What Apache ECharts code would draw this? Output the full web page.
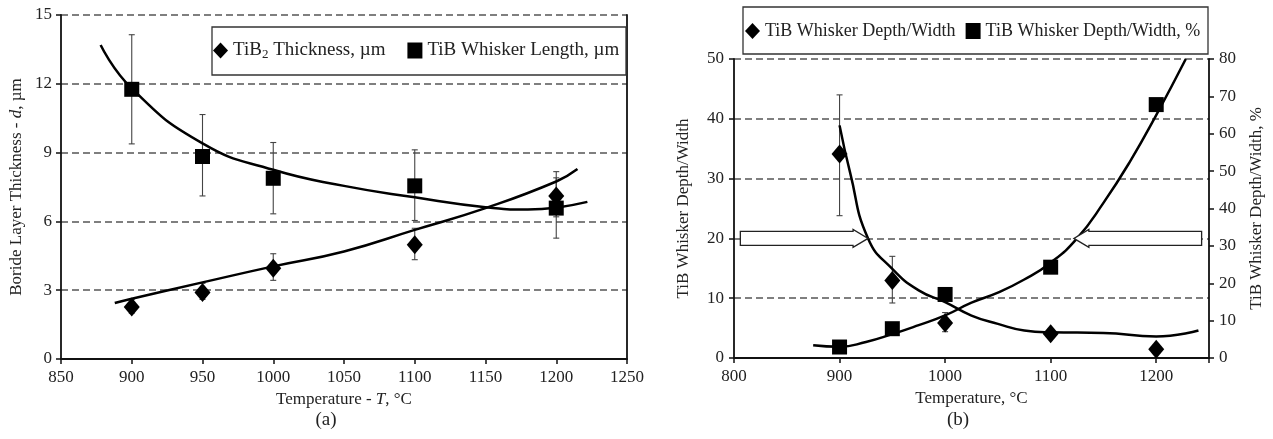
<!DOCTYPE html>
<html><head><meta charset="utf-8">
<script src="https://cdn.jsdelivr.net/npm/echarts@6/dist/echarts.min.js"></script>
<style>html,body{margin:0;padding:0;background:#fff}#c{width:1273px;height:439px}</style>
</head><body><div id="c"></div>
<script>
// ---------- Chart (a) ----------
const tempA = [900, 950, 1000, 1100, 1200];
const tib2Thickness = [2.27, 2.9, 3.96, 4.98, 7.11];
const tib2Low = [2.0, 2.6, 3.43, 4.33, 6.2];
const tib2High = [2.6, 3.3, 4.59, 5.7, 8.17];
const whiskerLength = [11.76, 8.83, 7.88, 7.55, 6.58];
const whiskerLow = [9.38, 7.11, 6.33, 6.04, 5.27];
const whiskerHigh = [14.14, 10.66, 9.44, 9.12, 7.9];
const tib2TrendT = [888, 900, 950, 1000, 1050, 1100, 1150, 1200, 1215];
const tib2TrendV = [2.44, 2.63, 3.34, 4.04, 4.69, 5.63, 6.58, 7.74, 8.28];
const whiskerTrendT = [878, 900, 950, 1000, 1050, 1100, 1150, 1180, 1200, 1222];
const whiskerTrendV = [13.69, 11.8, 9.4, 8.25, 7.55, 7.05, 6.62, 6.52, 6.6, 6.85];
const xTicksA = [850, 900, 950, 1000, 1050, 1100, 1150, 1200, 1250];
const yTicksA = [0, 3, 6, 9, 12, 15];

// ---------- Chart (b) ----------
const tempB = [900, 950, 1000, 1100, 1200];
const depthWidth = [34.1, 12.97, 5.85, 4.06, 1.45];
const depthWidthLow = [23.8, 9.2, 4.4, 3.6, 1.0];
const depthWidthHigh = [44.0, 17.0, 7.6, 4.6, 1.9];
const depthWidthPct = [2.94, 7.84, 17.0, 24.3, 67.8];
const dwTrendT = [900, 910, 927, 950, 975, 1000, 1025, 1050, 1075, 1100, 1150, 1200, 1240];
const dwTrendV = [38.9, 31.0, 20.0, 14.9, 11.3, 9.35, 7.1, 5.7, 4.6, 4.3, 4.2, 3.6, 4.6];
const pctTrendT = [875, 900, 925, 950, 975, 1000, 1025, 1050, 1075, 1100, 1125, 1150, 1175, 1200, 1228];
const pctTrendV = [3.4, 3.0, 4.3, 6.4, 8.8, 11.4, 14.8, 17.5, 21.0, 25.5, 32.0, 41.5, 52.5, 65.0, 80.0];
const arrowTails = [806, 1243];
const arrowTips = [927, 1122];
const arrowLevel = [20, 20];

const FONT = 'Liberation Serif';
const TXT = '#222';
const zip = (a, b) => a.map((v, i) => [v, b[i]]);
const zip3 = (a, b, c) => a.map((v, i) => [v, b[i], c[i]]);

function errRender(params, api) {
  const x = api.value(0);
  const p1 = api.coord([x, api.value(1)]);
  const p2 = api.coord([x, api.value(2)]);
  const w = 3;
  const st = { stroke: '#444', lineWidth: 1.1 };
  return { type: 'group', children: [
    { type: 'line', shape: { x1: p1[0], y1: p1[1], x2: p2[0], y2: p2[1] }, style: st },
    { type: 'line', shape: { x1: p1[0] - w, y1: p1[1], x2: p1[0] + w, y2: p1[1] }, style: st },
    { type: 'line', shape: { x1: p2[0] - w, y1: p2[1], x2: p2[0] + w, y2: p2[1] }, style: st }
  ]};
}
function arrowRender(params, api) {
  const tail = api.coord([api.value(0), api.value(2)]);
  const tip = api.coord([api.value(1), api.value(2)]);
  const dir = tip[0] > tail[0] ? 1 : -1;
  const hs = 7, hh = 9, hl = 15;
  const neck = tip[0] - dir * hl;
  const y = tip[1];
  return { type: 'polygon', shape: { points: [
    [tail[0], y - hs], [neck, y - hs], [neck, y - hh], [tip[0], y], [neck, y + hh], [neck, y + hs], [tail[0], y + hs]
  ]}, style: { fill: '#fff', stroke: '#222', lineWidth: 1.3 } };
}

const fmt = v => String(v);
const axisLineStyle = { lineStyle: { color: '#111', width: 1.8 } };
const tickStyle = { show: true, inside: false, length: 5, lineStyle: { color: '#111', width: 1.5 } };
const labelStyle = { color: TXT, fontSize: 17, fontFamily: FONT, formatter: fmt };
const splitDash = { show: true, lineStyle: { color: '#555', width: 1.5, type: [7, 4] } };
const nameStyle = { color: TXT, fontSize: 17, fontFamily: FONT,
  rich: { i: { fontStyle: 'italic', fontSize: 17, fontFamily: FONT, color: TXT } } };
const mark = { color: '#000', opacity: 1 };

const option = {
  animation: false,
  backgroundColor: '#fff',
  textStyle: { fontFamily: FONT },
  grid: [
    { left: 61, right: 646, top: 15, bottom: 80 },
    { left: 734, right: 64, top: 59, bottom: 81 }
  ],
  xAxis: [
    { type: 'value', gridIndex: 0, min: xTicksA[0], max: xTicksA[xTicksA.length - 1], interval: 50,
      axisLine: axisLineStyle, axisTick: tickStyle, axisLabel: Object.assign({}, labelStyle, { margin: 10 }),
      splitLine: { show: false },
      name: 'Temperature - {i|T}, °C', nameLocation: 'middle', nameGap: 30, nameTextStyle: nameStyle },
    { type: 'value', gridIndex: 1, min: 800, max: 1250, interval: 100,
      axisLine: axisLineStyle, axisTick: tickStyle,
      axisLabel: Object.assign({}, labelStyle, { margin: 10, formatter: v => (v > 1200 ? '' : String(v)) }),
      splitLine: { show: false },
      name: 'Temperature, °C', nameLocation: 'middle', nameGap: 31, nameTextStyle: nameStyle }
  ],
  yAxis: [
    { type: 'value', gridIndex: 0, min: yTicksA[0], max: yTicksA[yTicksA.length - 1], interval: 3,
      axisLine: Object.assign({ show: true }, axisLineStyle), axisTick: tickStyle,
      axisLabel: Object.assign({}, labelStyle, { margin: 9 }), splitLine: splitDash,
      name: 'Boride Layer Thickness - {i|d}, µm', nameLocation: 'middle', nameGap: 36, nameTextStyle: nameStyle },
    { type: 'value', gridIndex: 0, position: 'right', min: 0, max: 15, interval: 3,
      axisLine: Object.assign({ show: true }, axisLineStyle), axisTick: { show: false },
      axisLabel: { show: false }, splitLine: { show: false } },
    { type: 'value', gridIndex: 1, min: 0, max: 50, interval: 10,
      axisLine: Object.assign({ show: true }, axisLineStyle), axisTick: tickStyle,
      axisLabel: Object.assign({}, labelStyle, { margin: 10 }), splitLine: splitDash,
      name: 'TiB Whisker Depth/Width', nameLocation: 'middle', nameGap: 42, nameTextStyle: nameStyle },
    { type: 'value', gridIndex: 1, position: 'right', min: 0, max: 80, interval: 10,
      axisLine: Object.assign({ show: true }, axisLineStyle), axisTick: tickStyle,
      axisLabel: Object.assign({}, labelStyle, { margin: 10 }), splitLine: { show: false },
      name: 'TiB Whisker Depth/Width, %', nameLocation: 'middle', nameGap: 39, nameTextStyle: nameStyle }
  ],
  legend: [
    { left: 213, top: 41, itemWidth: 15, itemHeight: 16, itemGap: 22, padding: 0,
      data: ['TiB2 Thickness, µm', 'TiB Whisker Length, µm'],
      formatter: n => (n === 'TiB2 Thickness, µm' ? 'TiB{sub|2} Thickness, µm' : n),
      textStyle: { color: TXT, fontSize: 19, fontFamily: FONT,
        rich: { sub: { fontSize: 13, fontFamily: FONT, color: TXT, padding: [9, 0, 0, 0] } } } },
    { left: 745, top: 22, itemWidth: 15, itemHeight: 16, itemGap: 10, padding: 0,
      data: ['TiB Whisker Depth/Width', 'TiB Whisker Depth/Width, %'],
      textStyle: { color: TXT, fontSize: 18, fontFamily: FONT } }
  ],
  graphic: [
    { type: 'rect', shape: { x: 212, y: 27, width: 414, height: 48 }, style: { fill: 'none', stroke: '#333', lineWidth: 1.3 }, z: 100 },
    { type: 'rect', shape: { x: 743, y: 7, width: 465, height: 47 }, style: { fill: 'none', stroke: '#333', lineWidth: 1.3 }, z: 100 },
    { type: 'text', x: 326, y: 411, style: { text: '(a)', fill: TXT, font: '19px "Liberation Serif"', textAlign: 'center' } },
    { type: 'text', x: 958, y: 411, style: { text: '(b)', fill: TXT, font: '19px "Liberation Serif"', textAlign: 'center' } }
  ],
  series: [
    // chart (a)
    { type: 'custom', name: 'errA1', xAxisIndex: 0, yAxisIndex: 0, renderItem: errRender, data: zip3(tempA, whiskerLow, whiskerHigh), z: 2 },
    { type: 'custom', name: 'errA2', xAxisIndex: 0, yAxisIndex: 0, renderItem: errRender, data: zip3(tempA, tib2Low, tib2High), z: 2 },
    { type: 'line', name: 'trendWhisker', xAxisIndex: 0, yAxisIndex: 0, data: zip(whiskerTrendT, whiskerTrendV), smooth: 0.5, showSymbol: false, lineStyle: { color: '#000', width: 2.5 }, z: 3 },
    { type: 'line', name: 'trendTib2', xAxisIndex: 0, yAxisIndex: 0, data: zip(tib2TrendT, tib2TrendV), smooth: 0.5, showSymbol: false, lineStyle: { color: '#000', width: 2.5 }, z: 3 },
    { type: 'scatter', name: 'TiB2 Thickness, µm', xAxisIndex: 0, yAxisIndex: 0, data: zip(tempA, tib2Thickness), symbol: 'diamond', symbolSize: [16, 19], itemStyle: mark, z: 4 },
    { type: 'scatter', name: 'TiB Whisker Length, µm', xAxisIndex: 0, yAxisIndex: 0, data: zip(tempA, whiskerLength), symbol: 'rect', symbolSize: 15, itemStyle: mark, z: 4 },
    // chart (b)
    { type: 'custom', name: 'errB', xAxisIndex: 1, yAxisIndex: 2, renderItem: errRender, data: zip3(tempB, depthWidthLow, depthWidthHigh), z: 2 },
    { type: 'custom', name: 'arrows', xAxisIndex: 1, yAxisIndex: 2, renderItem: arrowRender, data: zip3(arrowTails, arrowTips, arrowLevel), z: 5 },
    { type: 'line', name: 'trendDW', xAxisIndex: 1, yAxisIndex: 2, data: zip(dwTrendT, dwTrendV), smooth: 0.5, showSymbol: false, lineStyle: { color: '#000', width: 2.5 }, z: 3 },
    { type: 'line', name: 'trendPct', xAxisIndex: 1, yAxisIndex: 3, data: zip(pctTrendT, pctTrendV), smooth: 0.5, showSymbol: false, lineStyle: { color: '#000', width: 2.5 }, z: 3 },
    { type: 'scatter', name: 'TiB Whisker Depth/Width', xAxisIndex: 1, yAxisIndex: 2, data: zip(tempB, depthWidth), symbol: 'diamond', symbolSize: [16, 19], itemStyle: mark, z: 4 },
    { type: 'scatter', name: 'TiB Whisker Depth/Width, %', xAxisIndex: 1, yAxisIndex: 3, data: zip(tempB, depthWidthPct), symbol: 'rect', symbolSize: 15, itemStyle: mark, z: 4 }
  ]
};
const chart = echarts.init(document.getElementById('c'), null, { renderer: 'canvas' });
chart.setOption(option);
</script>
</body></html>
